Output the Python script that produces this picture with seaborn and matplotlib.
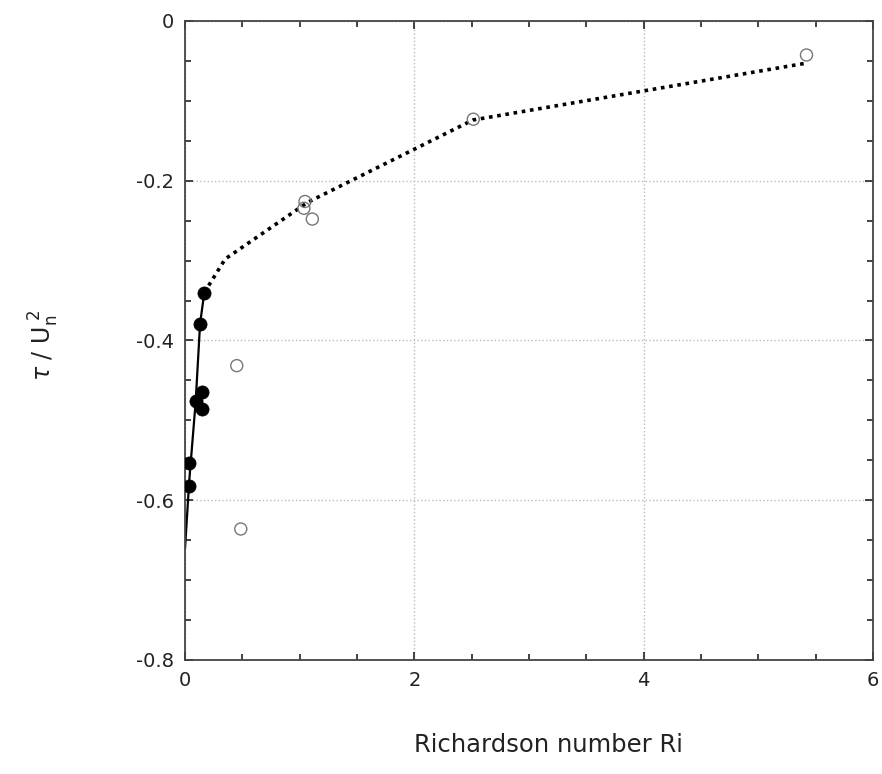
import numpy as np
import pandas as pd
import seaborn as sns
import matplotlib.pyplot as plt
from matplotlib.ticker import MultipleLocator

# filled points (low Ri)
ri_filled = [0.168, 0.131, 0.151, 0.093, 0.146, 0.037, 0.037]
tau_filled = [-0.340, -0.379, -0.465, -0.476, -0.486, -0.553, -0.582]

# open points
ri_open = [0.451, 0.486, 1.046, 1.037, 1.110, 2.514, 5.420]
tau_open = [-0.4315, -0.636, -0.226, -0.2345, -0.248, -0.123, -0.0426]

# solid fit line
ri_solid = [0.0, 0.037, 0.093, 0.131, 0.168]
tau_solid = [-0.660, -0.575, -0.476, -0.379, -0.340]

# dotted fit line
ri_dotted = [0.168, 0.35, 1.07, 2.51, 5.41]
tau_dotted = [-0.340, -0.298, -0.227, -0.124, -0.053]

sns.set_style("ticks")
plt.rcParams['font.family'] = ['DejaVu Sans']
plt.rcParams['axes.unicode_minus'] = False

fig = plt.figure(figsize=(8.82, 7.74), dpi=100)
ax = fig.add_axes([0.2098, 0.1473, 0.78, 0.8256])

df_solid = pd.DataFrame({'Ri': ri_solid, 'tau': tau_solid})
df_dot = pd.DataFrame({'Ri': ri_dotted, 'tau': tau_dotted})
sns.lineplot(data=df_solid, x='Ri', y='tau', sort=False, color='black', lw=1.6, ax=ax)
sns.lineplot(data=df_dot, x='Ri', y='tau', sort=False, color='black', lw=2.6, ax=ax)
ax.lines[-1].set_dashes([1, 1.3])

sns.scatterplot(x=ri_open, y=tau_open, s=75, facecolor='none', edgecolor='#777777',
                linewidth=1.0, ax=ax, zorder=3)
sns.scatterplot(x=ri_filled, y=tau_filled, s=90, color='black', edgecolor='black',
                linewidth=0.5, ax=ax, zorder=4)

ax.set_xlim(0, 6)
ax.set_ylim(-0.8, 0)
ax.xaxis.set_major_locator(MultipleLocator(2))
ax.xaxis.set_minor_locator(MultipleLocator(0.5))
ax.yaxis.set_major_locator(MultipleLocator(0.2))
ax.yaxis.set_minor_locator(MultipleLocator(0.05))
ax.yaxis.set_major_formatter(plt.FuncFormatter(lambda v, p: '0' if abs(v) < 1e-9 else f'{v:.1f}'))
ax.xaxis.set_major_formatter(plt.FuncFormatter(lambda v, p: f'{v:.0f}'))

ax.tick_params(which='both', direction='in', top=True, right=True, colors='#222222',
               labelsize=14, width=1.2)
ax.tick_params(which='major', length=6, pad=8)
ax.tick_params(which='minor', length=4)

ax.grid(True, which='major', linestyle=':', color='#bbbbbb', lw=1.0)
for s in ax.spines.values():
    s.set_visible(True)
    s.set_color('#444444')
    s.set_linewidth(1.3)

ax.set_xlabel('Richardson number Ri', fontsize=17.5, color='#222222')
ax.xaxis.set_label_coords(0.528, -0.114)
ax.set_ylabel(r'$\tau\ /\ \mathrm{U}_{\mathrm{n}}^{\ 2}$', fontsize=17, color='#222222')
ax.yaxis.set_label_coords(-0.18, 0.493)

fig.savefig('out.png', dpi=100)
